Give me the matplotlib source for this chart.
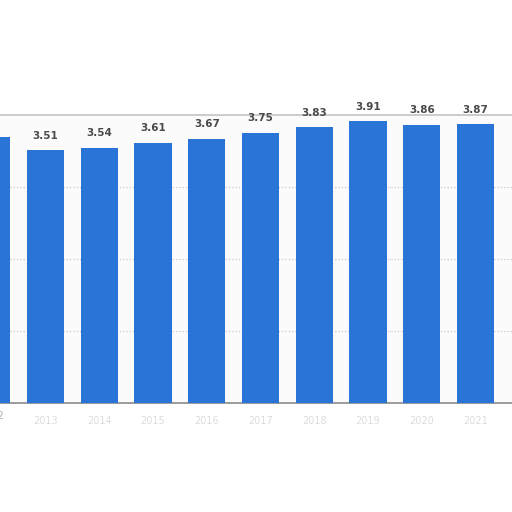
import matplotlib
matplotlib.use("Agg")
from matplotlib import pyplot as plt

# data (first bar is cut off at the left edge)
years = ["2012", "2013", "2014", "2015", "2016", "2017", "2018", "2019", "2020", "2021"]
values = [3.69, 3.51, 3.54, 3.61, 3.67, 3.75, 3.83, 3.91, 3.86, 3.87]
value_labels = ["3.69", "3.51", "3.54", "3.61", "3.67", "3.75", "3.83", "3.91", "3.86", "3.87"]

bar_color = "#2a74d8"

fig = plt.figure(figsize=(5.12, 5.12), dpi=100)
fig.patch.set_facecolor("white")
ax = fig.add_axes([0, 0.2129, 1, 0.5625])
ax.set_facecolor("#fbfbfb")

x = list(range(len(values)))
ax.bar(x, values, width=0.69, color=bar_color, zorder=3)

xmin, xmax = 0.1535, 9.679

# value labels above each bar (skip the one whose centre is off the chart)
for xi, v, lab in zip(x, values, value_labels):
    if xi < xmin:
        continue
    ax.annotate(lab, (xi, v), xytext=(0, 7), textcoords="offset points",
                ha="center", va="bottom", fontsize=7.5, fontweight="bold",
                color="#4a4a4a", zorder=4)

# dotted grid lines
ax.set_yticks([1, 2, 3])
ax.yaxis.grid(True, linestyle=":", color="#c8c8c8", linewidth=0.9, zorder=0)
ax.tick_params(axis="y", left=False, labelleft=False)

# year labels, very faint in the reference
ax.set_xticks(x)
ax.set_xticklabels(years, fontsize=7, color="#dcdcdc")
ax.tick_params(axis="x", bottom=False, pad=6)

# the first year label hangs off the left edge, only its tail shows
ax.annotate(years[0], (x[0], 0), xycoords=("data", "axes fraction"),
            xytext=(0, -6), textcoords="offset points", ha="center", va="top",
            fontsize=7, color="#b0b0b0", annotation_clip=False)

# limits last so the ticks do not widen them
ax.set_xlim(xmin, xmax)
ax.set_ylim(0, 4)

for side in ["left", "right"]:
    ax.spines[side].set_visible(False)
ax.spines["top"].set_color("#c4c4c4")
ax.spines["top"].set_linewidth(1.2)
ax.spines["bottom"].set_color("#8a8a8a")
ax.spines["bottom"].set_linewidth(1.2)

fig.savefig("out.png", dpi=100)
